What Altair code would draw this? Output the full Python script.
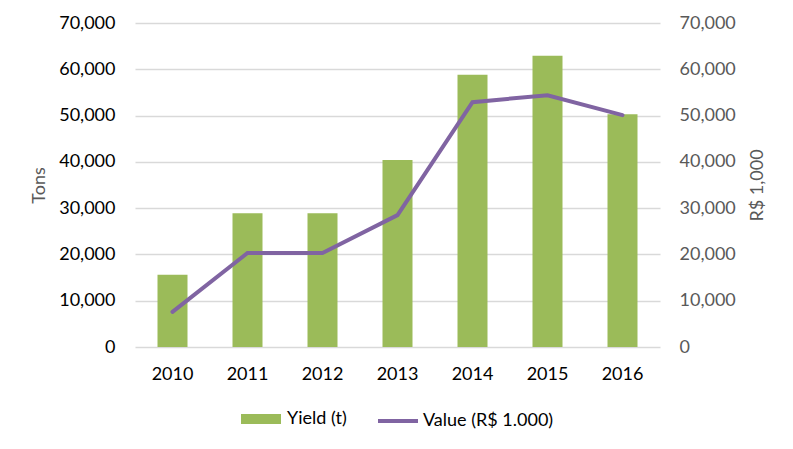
import altair as alt
import pandas as pd

years = ["2010", "2011", "2012", "2013", "2014", "2015", "2016"]
yield_t = [15600, 28900, 28900, 40400, 58800, 62900, 50300]
value_rs = [7600, 20300, 20300, 28500, 52900, 54400, 50100]

df = pd.DataFrame({"year": years, "yield": yield_t, "value": value_rs,
                   "s1": "Yield (t)", "s2": "Value (R$ 1.000)"})

FONT = "Lato"
GREEN = "#9BBB59"
PURPLE = "#8064A2"
GRAY = "#595959"

x = alt.X("year:N", title=None,
          scale=alt.Scale(paddingInner=0.6, paddingOuter=0.3),
          axis=alt.Axis(labelAngle=0, ticks=False, domain=False, labelPadding=18,
                        labelFontSize=18, labelColor="#000000", labelFont=FONT))

bars = alt.Chart(df).mark_bar(color=GREEN).encode(
    x=x,
    y=alt.Y("yield:Q", title="Tons",
            scale=alt.Scale(domain=[0, 70000], nice=False),
            axis=alt.Axis(values=list(range(0, 70001, 10000)), format=",.0f",
                          ticks=False, domain=False, grid=True, gridColor="#D9D9D9",
                          gridWidth=1.3, labelPadding=20, labelFontSize=18,
                          labelColor="#000000", labelFont=FONT,
                          titleFontSize=18, titleFont=FONT, titleColor=GRAY,
                          titleFontWeight="normal", titlePadding=10)),
    fill=alt.Fill("s1:N", title=None,
                  scale=alt.Scale(domain=["Yield (t)"], range=[GREEN]),
                  legend=alt.Legend(orient="none", legendX=106, legendY=376,
                                    symbolType="M-1,-0.25H1V0.25H-1Z",
                                    symbolSize=1600, labelFontSize=18, labelFont=FONT,
                                    labelColor="#000000", symbolStrokeWidth=0,
                                    labelOffset=6, padding=0)),
)

line = alt.Chart(df).mark_line(color=PURPLE, strokeWidth=4, strokeCap="round").encode(
    x=x,
    y=alt.Y("value:Q", title="R$ 1,000",
            scale=alt.Scale(domain=[0, 70000], nice=False),
            axis=alt.Axis(orient="right", values=list(range(0, 70001, 10000)), format=",.0f",
                          ticks=False, domain=False, grid=False, labelPadding=19,
                          labelFontSize=18, labelColor=GRAY, labelFont=FONT,
                          titleFontSize=18, titleFont=FONT, titleColor=GRAY,
                          titleFontWeight="normal", titleAngle=270,
                          titleX=97, titleY=162, titleAlign="center",
                          titleBaseline="middle")),
    stroke=alt.Stroke("s2:N", title=None,
                      scale=alt.Scale(domain=["Value (R$ 1.000)"], range=[PURPLE]),
                      legend=alt.Legend(orient="none", legendX=241, legendY=376,
                                        symbolType="M-1,0H1",
                                        symbolSize=1600, symbolStrokeWidth=4,
                                        labelFontSize=18, labelFont=FONT,
                                        labelColor="#000000", labelOffset=3, padding=0)),
)

chart = alt.layer(bars, line).resolve_scale(y="independent", fill="independent", stroke="independent").properties(
    width=525, height=324,
    autosize=alt.AutoSizeParams(type="none"),
    padding={"left": 127, "top": 15, "right": 125, "bottom": 94},
).configure_view(stroke=None).configure_legend(direction="horizontal")

chart.save("out.html", embed_options={"renderer": "svg", "actions": False})
